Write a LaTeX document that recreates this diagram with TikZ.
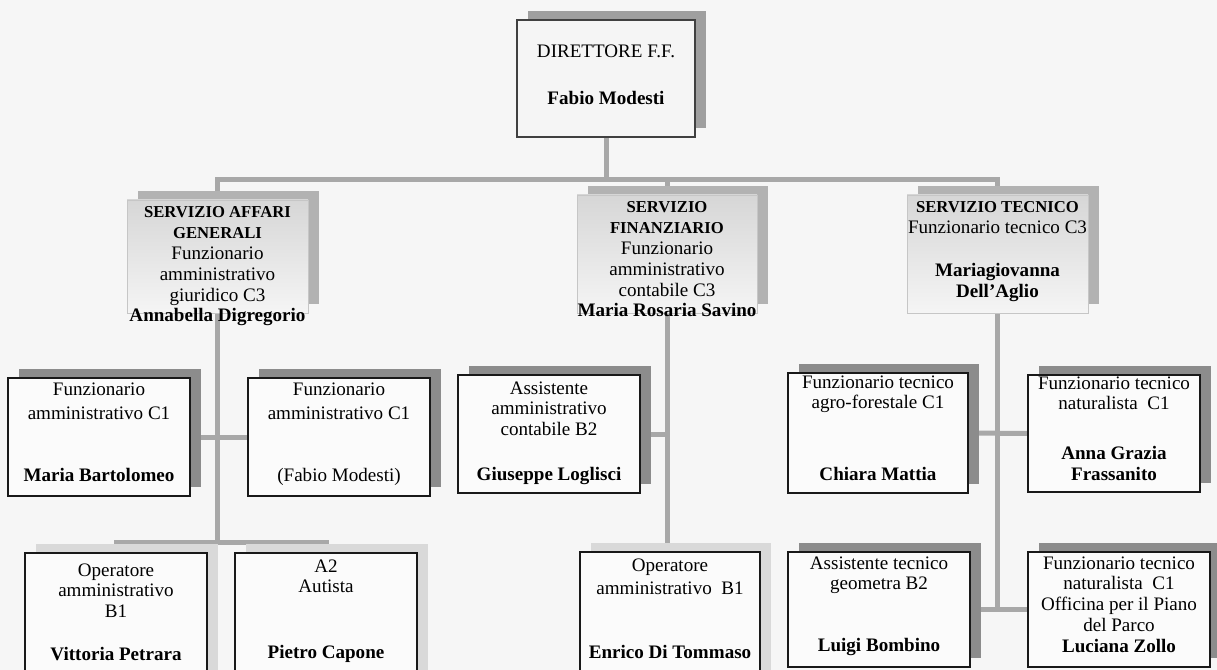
\documentclass[tikz,border=0pt]{standalone}
\usepackage{fontspec}
\setmainfont{Liberation Serif}
\usetikzlibrary{shadows}
\pgfdeclarelayer{bg}
\pgfdeclarelayer{lines}
\pgfsetlayers{bg,lines,main}
\newcommand\bx[4]{\parbox[c][#2][t]{#1}{\centering\vspace*{#3}\rule{0pt}{10pt}#4}}
\newcommand\hd[1]{{\fontsize{12.5}{15.6}\selectfont\bfseries #1}}
\definecolor{paper}{HTML}{F6F6F6}
\definecolor{connc}{HTML}{A8A8A8}
\definecolor{cardfill}{HTML}{FBFBFB}
\tikzset{
  txt/.style={font=\fontsize{14.3}{15.6}\selectfont, inner sep=0pt, outer sep=0pt},
  card/.style={txt, draw=black!90, line width=0.9pt, fill=cardfill,
    general shadow={shadow xshift=8.25pt, shadow yshift=6.75pt, fill=#1}},
  card/.default=gray!90,
  headcard/.style={txt, draw=black!75, line width=0.9pt, fill=gray!8,
    general shadow={shadow xshift=8.25pt, shadow yshift=6.75pt, fill=gray!75}},
  servcard/.style={txt, draw=gray!45, line width=0.5pt, top color=gray!32, bottom color=gray!8,
    general shadow={shadow xshift=8.25pt, shadow yshift=6.75pt, fill=gray!60}},
  conn/.style={draw=connc, line width=3.75pt}
}
\begin{document}
\begin{tikzpicture}[x=0.75pt,y=-0.75pt]
\useasboundingbox (0,0) rectangle (1217,670);
\begin{pgfonlayer}{bg}
\fill[paper] (0,0) rectangle (1217,670);
\end{pgfonlayer}
\clip (0,0) rectangle (1217,670);

% top
\node[headcard] (T) at (606,78.5) {\bx{133.5pt}{87.75pt}{18.5pt}{DIRETTORE F.F.\\[19.1pt]\textbf{Fabio Modesti}}};

% services
\node[servcard] (S1) at (217.5,256.5) {\bx{135.75pt}{84.75pt}{3.5pt}{\hd{SERVIZIO AFFARI}\\\hd{GENERALI}\\Funzionario\\amministrativo\\giuridico C3\\\textbf{Annabella Digregorio}}};
\node[servcard] (S2) at (667,254) {\bx{135pt}{88.5pt}{3.5pt}{\hd{SERVIZIO}\\\hd{FINANZIARIO}\\Funzionario\\amministrativo\\contabile C3\\\textbf{Maria Rosaria Savino}}};
\node[servcard] (S3) at (997.5,254) {\bx{135.75pt}{88.5pt}{3.5pt}{\hd{SERVIZIO TECNICO}\\Funzionario tecnico C3\\[16.8pt]\textbf{Mariagiovanna}\\\textbf{Dell’Aglio}}};

% row 2
\node[card] (A1) at (99,437) {\bx{136.5pt}{88.5pt}{2.8pt}{Funzionario\\[2.6pt]amministrativo C1\\[31.1pt]\textbf{Maria Bartolomeo}}};
\node[card] (A2) at (339,437) {\bx{136.5pt}{88.5pt}{2.8pt}{Funzionario\\[2.6pt]amministrativo C1\\[31.1pt](Fabio Modesti)}};
\node[card] (F1) at (549,434) {\bx{136.5pt}{88.5pt}{4.3pt}{Assistente\\amministrativo\\contabile B2\\[18.3pt]\textbf{Giuseppe Loglisci}}};
\node[card] (T1) at (878,433) {\bx{135pt}{90pt}{1.3pt}{Funzionario tecnico\\agro-forestale C1\\[38.4pt]\textbf{Chiara Mattia}}};
\node[card] (T2) at (1114,433.5) {\bx{129pt}{87.75pt}{0.5pt}{Funzionario tecnico\\naturalista\ \ C1\\[21.9pt]\textbf{Anna Grazia}\\\textbf{Frassanito}}};

% row 3
\node[card=gray!30] (B1) at (116,621.5) {\bx{136.5pt}{102.75pt}{7.3pt}{Operatore\\amministrativo\\B1\\[16.6pt]\textbf{Vittoria Petrara}}};
\node[card=gray!30] (B2) at (326,621.5) {\bx{136.5pt}{102.75pt}{4.3pt}{A2\\Autista\\[33.9pt]\textbf{Pietro Capone}}};
\node[card=gray!30] (F2) at (670,621) {\bx{135pt}{103.5pt}{4.3pt}{Operatore\\[1.6pt]amministrativo\ \ B1\\[32.4pt]\textbf{Enrico Di Tommaso}}};
\node[card] (T3) at (879,609.5) {\bx{136.5pt}{86.25pt}{2.8pt}{Assistente tecnico\\geometra B2\\[30.9pt]\textbf{Luigi Bombino}}};
\node[card] (T4) at (1119,609.5) {\bx{136.5pt}{86.25pt}{2.8pt}{Funzionario tecnico\\naturalista\ \ C1\\Officina per il Piano\\del Parco\\\textbf{Luciana Zollo}}};

\begin{pgfonlayer}{lines}
\coordinate (bus) at (606,180);
\draw[conn] (T.south) -- (bus);
\draw[conn] (S1.north) |- (bus) -| (S3.north);
\draw[conn] (bus -| S2.north) -- (S2.north);
\coordinate (lb) at (218,542);
\draw[conn] (S1.south) -- (S1.south |- lb);
\draw[conn] (B1.north) |- (lb) -| (B2.north);
\draw[conn] (A1.east) -- (A2.west);
\draw[conn] (S2.south) -- (S2.south |- F2.north);
\draw[conn] (F1.east) -- (F1.east -| S2.south);
\draw[conn] (S3.south) -- (S3.south |- T4.west);
\draw[conn] (T1.east) -- (T2.west);
\draw[conn] (T3.east) -- (T4.west);
\end{pgfonlayer}
\end{tikzpicture}
\end{document}
